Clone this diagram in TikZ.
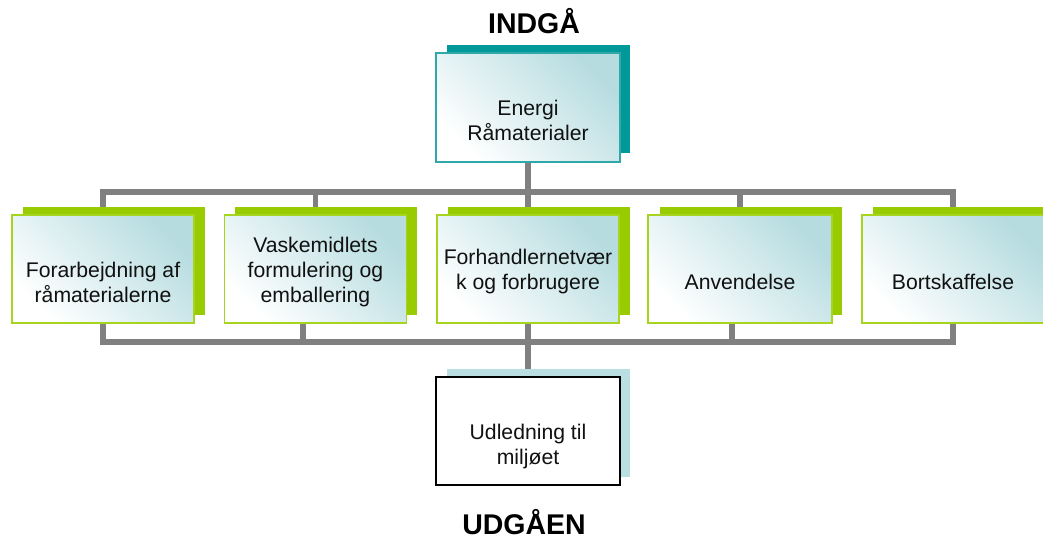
\documentclass[tikz,border=0pt]{standalone}
\usepackage{fontspec}
\setmainfont{Liberation Sans}
\usetikzlibrary{backgrounds}
\definecolor{busgray}{HTML}{808080}
\definecolor{shteal}{HTML}{009999}
\definecolor{tealedge}{HTML}{2EA8A8}
\definecolor{shgreen}{HTML}{99CC00}
\definecolor{greenedge}{HTML}{A6D41F}
\definecolor{shblue}{HTML}{B9DFE3}
\definecolor{boxblue}{HTML}{B6DCE0}
\definecolor{txtcol}{HTML}{111111}
\tikzset{
  bus/.style={line width=5.5pt, draw=busgray},
  shadowbox/.style={rectangle, inner sep=0pt, outer sep=0pt, minimum width=182pt, minimum height=108pt},
  frontbox/.style={rectangle, inner sep=0pt, outer sep=0pt, minimum width=182pt, minimum height=108pt,
     line width=1.8pt, shading=axis, top color=boxblue, bottom color=white, shading angle=-45},
  greenbox/.style={frontbox, draw=greenedge},
  tealbox/.style={frontbox, draw=tealedge, minimum width=184pt, minimum height=109pt},
  outbox/.style={rectangle, inner sep=0pt, outer sep=0pt, minimum width=184pt, minimum height=108pt,
     draw=black, line width=1.6pt, fill=white},
  txt/.style={align=center, inner sep=0pt, text=txtcol, font=\fontsize{21.2}{25}\selectfont},
  title/.style={inner sep=0pt, text=black, font=\bfseries\fontsize{28.5}{34}\selectfont, anchor=base}
}
\begin{document}
\begin{tikzpicture}[x=1pt,y=-1pt]
\useasboundingbox (0,0) rectangle (1043,538);

% titles
\node[title] (indga) at (534,33) {INDGÅ};
\node[title] (udgaen) at (524,534) {UDGÅEN};

% top box
\node[shadowbox, fill=shteal, minimum width=183pt] (tops) at (538.5,99) {};
\node[tealbox] (top) at (528,107.5) {};
\node[txt] (toptxt) at (528,120) {Energi\\Råmaterialer};

% middle row shadows
\node[shadowbox, fill=shgreen] (b1s) at (113.5,260.5) {};
\node[shadowbox, fill=shgreen] (b2s) at (326,260.5) {};
\node[shadowbox, fill=shgreen] (b3s) at (538.5,260.5) {};
\node[shadowbox, fill=shgreen] (b4s) at (750.5,260.5) {};
\node[shadowbox, fill=shgreen] (b5s) at (963.5,260.5) {};
% middle row boxes
\node[greenbox] (b1) at (103,269) {};
\node[greenbox] (b2) at (315.5,269) {};
\node[greenbox] (b3) at (528,269) {};
\node[greenbox, minimum width=184pt] (b4) at (740,269) {};
\node[greenbox] (b5) at (953,269) {};
\node[txt] (b1t) at (103,282) {Forarbejdning af\\råmaterialerne};
\node[txt] (b2t) at (315.5,271.7) {Vaskemidlets\\formulering og\\emballering};
\node[txt] (b3t) at (528,272) {Forhandlernetvær\\k og forbrugere};
\node[txt] (b4t) at (740,281.5) {Anvendelse};
\node[txt] (b5t) at (953,281.5) {Bortskaffelse};

% bottom box
\node[shadowbox, fill=shblue, minimum width=183pt] (outs) at (538.5,423) {};
\node[outbox] (out) at (528,431) {};
\node[txt] (outt) at (528,447) {Udledning til\\miljøet};

% bus coordinates
\coordinate (busT) at (528,192);
\coordinate (busB) at (528,342);
\coordinate (b2d) at ([xshift=-12.5pt]b2.south);
\coordinate (b4d) at ([xshift=-8pt]b4.south);

\begin{scope}[on background layer]
  \draw[bus] (b1.north) -- (b1.north |- busT) -- (b5.north |- busT) -- (b5.north);
  \draw[bus] (b2.north) -- (b2.north |- busT);
  \draw[bus] (b4.north) -- (b4.north |- busT);
  \draw[bus] (top.south) -- (b3.north);
  \draw[bus] (b1.south) -- (b1.south |- busB) -- (b5.south |- busB) -- (b5.south);
  \draw[bus] (b2d) -- (b2d |- busB);
  \draw[bus] (b4d) -- (b4d |- busB);
  \draw[bus] (b3.south) -- (out.north);
\end{scope}
\end{tikzpicture}
\end{document}
